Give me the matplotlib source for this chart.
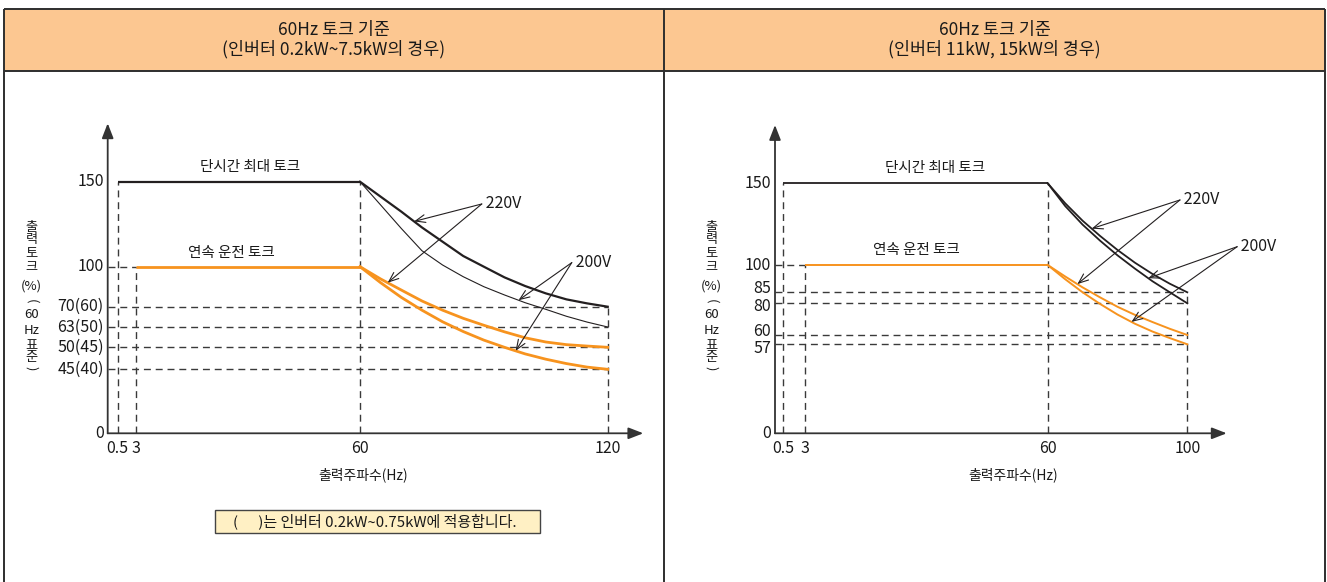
import numpy as np
import matplotlib
matplotlib.use('Agg')
import matplotlib.pyplot as plt
from matplotlib.patches import Rectangle
from matplotlib.transforms import ScaledTranslation

KR = ['Noto Sans CJK KR', 'DejaVu Sans']
plt.rcParams['font.family'] = KR

# ---------------- data ----------------
left_title = "60Hz 토크 기준\n(인버터 0.2kW~7.5kW의 경우)"
right_title = "60Hz 토크 기준\n(인버터 11kW, 15kW의 경우)"
max_label = "단시간 최대 토크"
cont_label = "연속 운전 토크"
xlabel = "출력주파수(Hz)"
ylabel_parts = ["출", "력", "토", "크", "(%)", "(", "60", "Hz", "표", "준", ")"]
note_text = "(      )는 인버터 0.2kW~0.75kW에 적용합니다."

# left panel (0.2kW ~ 7.5kW)
left_xticks = [0.5, 3, 60, 120]
left_xticklabels = ["0.5", "3", "60", "120"]
left_yticks = [0, 45, 50, 63, 70, 100, 150]
left_yticklabels = ["0", "45(40)", "50(45)", "63(50)", "70(60)", "100", "150"]
left_freq = [60, 65, 70, 75, 80, 85, 90, 95, 100, 105, 110, 115, 120]
left_max_220 = [150, 141.2, 132.4, 123.1, 114.7, 106.3, 100, 92, 85.5, 80, 75.5, 72.5, 70]
left_max_200 = [150, 136.3, 122.5, 109.4, 101, 92.5, 85, 78.8, 73, 69.1, 66.7, 64.7, 63]
left_cont_220 = [100, 90.8, 82.5, 74.3, 68.8, 66, 63.6, 59.9, 56.1, 53.4, 51.7, 50.8, 50]
left_cont_200 = [100, 88, 77, 68.8, 64.8, 60.1, 54.6, 50, 48.5, 47.3, 46.3, 45.5, 45]

# right panel (11kW, 15kW)
right_xticks = [0.5, 3, 60, 100]
right_xticklabels = ["0.5", "3", "60", "100"]
right_yticks = [0, 57, 60, 80, 85, 100, 150]
right_yticklabels = ["0", "57", "60", "80", "85", "100", "150"]
right_freq = [60, 65, 70, 75, 80, 85, 90, 95, 100]
right_max_220 = [150, 137.8, 127.1, 117.8, 109.2, 101.4, 95.1, 89.7, 85]
right_max_200 = [150, 136.1, 124.7, 114.9, 105.9, 98, 91.1, 85, 80]
right_cont_220 = [100, 93.7, 87.7, 82.7, 77.8, 72.7, 68.2, 63.9, 60]
right_cont_200 = [100, 92.2, 85, 79.6, 72.9, 67.1, 62.2, 59, 57]

# ---------------- style / layout ----------------
W, H = 1327, 582
ORANGE = '#F7931E'
BLACK = '#231F20'
DASH = '#3a3a3a'
HEAD = '#FCC791'
BORDER = '#2e2e2e'
TXT = '#1a1a1a'

fig = plt.figure(figsize=(W / 100, H / 100), dpi=100)
bg = fig.add_axes([0, 0, 1, 1])
bg.set_xlim(0, W)
bg.set_ylim(H, 0)
bg.axis('off')

# table
bg.add_patch(Rectangle((4, 9), 660.3, 62, fc=HEAD, ec='none'))
bg.add_patch(Rectangle((664.3, 9), 660.7, 62, fc=HEAD, ec='none'))
for (x0, y0, x1, y1) in [(4, 9, 1325, 9), (4, 71, 1325, 71), (4, 9, 4, 582),
                         (1325, 9, 1325, 582), (664.3, 9, 664.3, 582)]:
    bg.plot([x0, x1], [y0, y1], color=BORDER, lw=1.4, solid_capstyle='butt')
bg.text(334, 40, left_title, ha='center', va='center', fontsize=12.5,
        color=TXT, linespacing=1.1)
bg.text(994.5, 40, right_title, ha='center', va='center', fontsize=12.5,
        color=TXT, linespacing=1.1)

# note box
bg.add_patch(Rectangle((215, 510), 325, 23, fc='#FFF0C4', ec='#444444', lw=1.0))
bg.text(233, 521.5, note_text, ha='left', va='center', fontsize=10.8, color=TXT)


def pw(kin, kout):
    ki = np.asarray(kin, float)
    ko = np.asarray(kout, float)

    def f(v):
        v = np.asarray(v, float)
        out = np.interp(v, ki, ko)
        lo_s = (ko[1] - ko[0]) / (ki[1] - ki[0])
        hi_s = (ko[-1] - ko[-2]) / (ki[-1] - ki[-2])
        out = np.where(v < ki[0], ko[0] + (v - ki[0]) * lo_s, out)
        out = np.where(v > ki[-1], ko[-1] + (v - ki[-1]) * hi_s, out)
        return out
    return f


def make_panel(xk_data, xk_pix, yk_data, yk_pix, base_y):
    left, right = xk_pix[0], xk_pix[-1]
    top = yk_pix[-1]
    ax = fig.add_axes([left / W, 1 - base_y / H, (right - left) / W, (base_y - top) / H])
    ax.patch.set_alpha(0)
    yh = [base_y - p for p in yk_pix]
    ax.set_xscale('function', functions=(pw(xk_data, xk_pix), pw(xk_pix, xk_data)))
    ax.set_yscale('function', functions=(pw(yk_data, yh), pw(yh, yk_data)))
    ax.set_xlim(xk_data[0], xk_data[-1])
    ax.set_ylim(yk_data[0], yk_data[-1])
    for s in ax.spines.values():
        s.set_visible(False)
    for xy in [(xk_data[0], yk_data[-1]), (xk_data[-1], yk_data[0])]:
        ax.annotate('', xy=xy, xytext=(xk_data[0], yk_data[0]),
                    arrowprops=dict(arrowstyle='-|>,head_length=0.9,head_width=0.35',
                                    color='#333333', lw=1.3, shrinkA=0, shrinkB=0,
                                    mutation_scale=10),
                    annotation_clip=False)
    ax.tick_params(length=0, labelsize=11.5, colors=TXT)
    ax.tick_params(axis='x', pad=5)
    ax.set_yticks([])
    return ax


def ylabels(ax, ticks, labels, shifts):
    for t, lab in zip(ticks, labels):
        dy = shifts.get(t, 0) / 72.0
        tr = ax.get_yaxis_transform() + ScaledTranslation(-4 / 72.0 * 0.72, dy * 0.72, fig.dpi_scale_trans)
        ax.text(0, t, lab, transform=tr, ha='right', va='center', fontsize=11.5, color=TXT,
                clip_on=False)


def dashed(ax, xs, ys):
    ax.plot(xs, ys, color=DASH, lw=1.0, dashes=(5, 3.5), clip_on=False, zorder=2)


def draw(ax, xt, xtl, freq, m220, m200, c220, c200, xmax, thick_lw, thin_lw, olw):
    ax.set_xticks(xt, xtl)
    dashed(ax, [0.5, 0.5], [0, 150])
    dashed(ax, [3, 3], [0, 100])
    dashed(ax, [0, 3], [100, 100])
    dashed(ax, [60, 60], [0, 150])
    dashed(ax, [xmax, xmax], [0, m220[-1]])
    for v in [m220[-1], m200[-1], c220[-1], c200[-1]]:
        dashed(ax, [0, xmax], [v, v])
    ax.plot([0.5, 60], [150, 150], color=BLACK, lw=thick_lw, zorder=4, solid_capstyle='butt')
    ax.plot([3, 60], [100, 100], color=ORANGE, lw=olw, zorder=4, solid_capstyle='butt')
    ax.plot(freq, m220, color=BLACK, lw=thick_lw, zorder=4)
    ax.plot(freq, m200, color=BLACK, lw=thin_lw, zorder=4)
    ax.plot(freq, c220, color=ORANGE, lw=olw, zorder=4)
    ax.plot(freq, c200, color=ORANGE, lw=olw, zorder=4)


def arrows(ax, tail, label, targets, freq):
    for (f, curve) in targets:
        tip = (f, float(np.interp(f, freq, curve)))
        ax.annotate('', xy=tip, xytext=tail,
                    arrowprops=dict(arrowstyle='->,head_length=0.7,head_width=0.28', color=BLACK,
                                    lw=0.8, shrinkA=0, shrinkB=0, mutation_scale=10),
                    annotation_clip=False, zorder=6)
    ax.text(tail[0], tail[1], ' ' + label, ha='left', va='center', fontsize=11.5,
            color=TXT, zorder=6)


# ---- left panel
axL = make_panel([0, 0.5, 3, 60, 120, 128.6], [107.7, 117.7, 135.7, 360, 607.7, 643.3],
                 [0, 45, 50, 63, 70, 100, 150, 184],
                 [433.3, 369.3, 347.3, 327, 306.7, 266.7, 181.7, 123.3], 433.3)
draw(axL, left_xticks, left_xticklabels, left_freq,
     left_max_220, left_max_200, left_cont_220, left_cont_200, 120, 1.6, 0.8, 2.0)
ylabels(axL, left_yticks, left_yticklabels, {})
arrows(axL, (89.5, 136.9), '220V', [(73.1, left_max_220), (66.7, left_cont_220)], left_freq)
arrows(axL, (111.3, 102.4), '200V', [(98.4, left_max_200), (97.7, left_cont_200)], left_freq)

# ---- right panel
axR = make_panel([0, 0.5, 3, 60, 100, 111.3], [775, 783.3, 805, 1047.7, 1187.3, 1226.7],
                 [0, 57, 60, 80, 85, 100, 150, 185.7],
                 [433.3, 344.3, 335, 303.3, 292.3, 265, 183.3, 125], 433.3)
draw(axR, right_xticks, right_xticklabels, right_freq,
     right_max_220, right_max_200, right_cont_220, right_cont_200, 100, 1.3, 1.3, 1.4)
ylabels(axR, right_yticks, right_yticklabels, {85: 3.5, 80: -3.5, 60: 4, 57: -4})
arrows(axR, (97.9, 139.8), '220V', [(72.6, right_max_220), (68.5, right_cont_220)], right_freq)
arrows(axR, (114.3, 111.2), '200V', [(88.8, right_max_200), (84, right_cont_200)], right_freq)

# curve labels, axis labels
for (cx_max, cy_max, cx_cont, cy_cont, cx_xl, ylx) in [(250, 167, 231.7, 253, 363, 31.7),
                                                         (935, 168, 916.7, 250, 1013, 711.7)]:
    bg.text(cx_max, cy_max, max_label, ha='center', va='center', fontsize=10.5, color=TXT)
    bg.text(cx_cont, cy_cont, cont_label, ha='center', va='center', fontsize=10.5, color=TXT)
    bg.text(cx_xl, 475, xlabel, ha='center', va='center', fontsize=10, color=TXT)
    ys = [227, 240, 254, 268, 286, 301, 315, 330, 346, 357.5, 368]
    for part, yy in zip(ylabel_parts, ys):
        rot = -90 if part in ('(', ')') else 0
        bg.text(ylx, yy, part, ha='center', va='center', fontsize=9.5, color=TXT,
                rotation=rot, rotation_mode='anchor')

fig.savefig('out.png', dpi=100)
